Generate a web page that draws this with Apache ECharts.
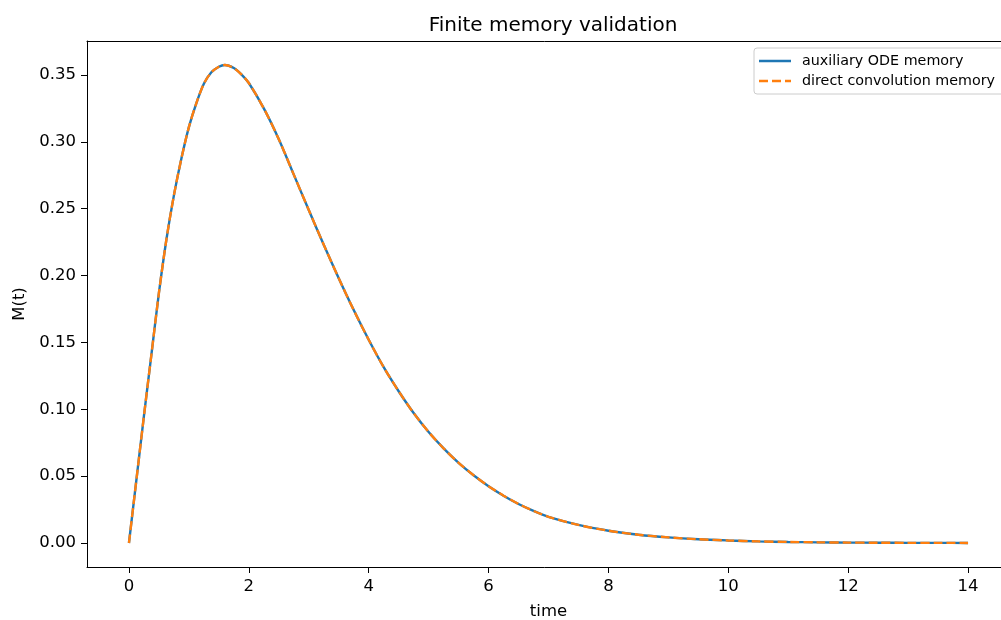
<!DOCTYPE html>
<html>
<head>
<meta charset="utf-8">
<script src="https://cdn.jsdelivr.net/npm/echarts@6/dist/echarts.min.js"></script>
<style>
html,body{margin:0;padding:0;background:#fff;}
#chart{width:1001px;height:620px;}
</style>
</head>
<body>
<div id="chart"></div>
<script>
const time = [0,0.1,0.25,0.375,0.5,0.625,0.75,0.875,1.0,1.125,1.25,1.375,1.5,1.6,1.75,1.875,2.0,2.25,2.5,2.75,3.0,3.25,3.5,3.75,4.0,4.25,4.5,4.75,5.0,5.25,5.5,5.75,6.0,6.25,6.5,6.75,7.0,7.5,8.0,8.5,9.0,9.5,10,10.5,11,11.5,12,12.5,13,13.5,14];
const odeMemory = [0,0.038,0.095,0.141,0.187,0.227,0.260,0.2875,0.311,0.329,0.3435,0.352,0.3562,0.3575,0.3552,0.3505,0.344,0.325,0.302,0.2755,0.249,0.223,0.198,0.1742,0.152,0.1315,0.1135,0.0972,0.0830,0.0708,0.0600,0.0507,0.0425,0.0354,0.0292,0.0240,0.0196,0.0135,0.0092,0.0062,0.0042,0.0028,0.0019,0.0012,0.0008,0.0005,0.0003,0.0002,0.0001,0.00007,0.00005];
const convMemory = [0,0.038,0.095,0.141,0.187,0.227,0.260,0.2875,0.311,0.329,0.3435,0.352,0.3562,0.3575,0.3552,0.3505,0.344,0.325,0.302,0.2755,0.249,0.223,0.198,0.1742,0.152,0.1315,0.1135,0.0972,0.0830,0.0708,0.0600,0.0507,0.0425,0.0354,0.0292,0.0240,0.0196,0.0135,0.0092,0.0062,0.0042,0.0028,0.0019,0.0012,0.0008,0.0005,0.0003,0.0002,0.0001,0.00007,0.00005];
const xTicks = [0,2,4,6,8,10,12,14];
const yTicks = [0,0.05,0.10,0.15,0.20,0.25,0.30,0.35];
const seriesNames = ['auxiliary ODE memory','direct convolution memory'];

const FONT = 'DejaVu Sans';
const chart = echarts.init(document.getElementById('chart'), null, {renderer:'canvas'});
chart.setOption({
  animation:false,
  backgroundColor:'#fff',
  title:{
    text:'Finite memory validation',
    left:548, top:11, textAlign:'center',
    textStyle:{fontFamily:FONT,fontSize:20,fontWeight:'normal',color:'#000'}
  },
  legend:{
    data:[
      {name:seriesNames[0], icon:'path://M0 0H32V2.5H0Z'},
      {name:seriesNames[1], icon:'path://M0 0H9V2.5H0Z M13 0H22V2.5H13Z M26 0H32V2.5H26Z'}
    ],
    orient:'vertical',
    left:754, top:48,
    padding:[6,40,6,5],
    itemGap:6,
    itemWidth:32, itemHeight:2.5,
    symbolKeepAspect:false,
    borderColor:'#cccccc', borderWidth:1, borderRadius:3,
    backgroundColor:'rgba(255,255,255,0.8)',
    textStyle:{fontFamily:FONT,fontSize:14.3,color:'#000',padding:[0,0,0,6]}
  },
  grid:{left:87,top:41,width:923,height:526,outerBoundsMode:'none',containLabel:false,show:false},
  xAxis:[{
    type:'value', min:-0.7, max:14.7,
    name:'time', nameLocation:'middle', nameGap:36,
    nameTextStyle:{fontFamily:FONT,fontSize:16.5,color:'#000'},
    axisLine:{show:true,onZero:false,lineStyle:{color:'#000',width:1}},
    axisTick:{show:true,length:6,customValues:xTicks,lineStyle:{color:'#000'}},
    axisLabel:{customValues:xTicks,margin:11,fontFamily:FONT,fontSize:16.5,color:'#000',formatter:v=>String(v)},
    splitLine:{show:false}
  },{
    type:'value', position:'top', min:-0.7, max:14.7,
    axisLine:{show:true,onZero:false,lineStyle:{color:'#000',width:1}},
    axisTick:{show:false}, axisLabel:{show:false}, splitLine:{show:false}
  }],
  yAxis:{
    type:'value', min:-0.01795, max:0.37543,
    name:'M(t)', nameLocation:'middle', nameGap:59, nameRotate:90,
    nameTextStyle:{fontFamily:FONT,fontSize:16.5,color:'#000'},
    axisLine:{show:true,onZero:false,lineStyle:{color:'#000',width:1}},
    axisTick:{show:true,length:6,customValues:yTicks,lineStyle:{color:'#000'}},
    axisLabel:{customValues:yTicks,margin:11,fontFamily:FONT,fontSize:16.5,color:'#000',formatter:v=>v.toFixed(2)},
    splitLine:{show:false}
  },
  series:[
    {
      name:seriesNames[0], type:'line', symbol:'none', smooth:0.3,
      data:time.map((t,i)=>[t,odeMemory[i]]),
      lineStyle:{color:'#1f77b4',width:2.4,type:'solid'},
      itemStyle:{color:'#1f77b4'}, z:2
    },
    {
      name:seriesNames[1], type:'line', symbol:'none', smooth:0.3,
      data:time.map((t,i)=>[t,convMemory[i]]),
      lineStyle:{color:'#ff7f0e',width:2.4,type:[9,4]},
      itemStyle:{color:'#ff7f0e'}, z:3
    }
  ]
});
</script>
</body>
</html>
